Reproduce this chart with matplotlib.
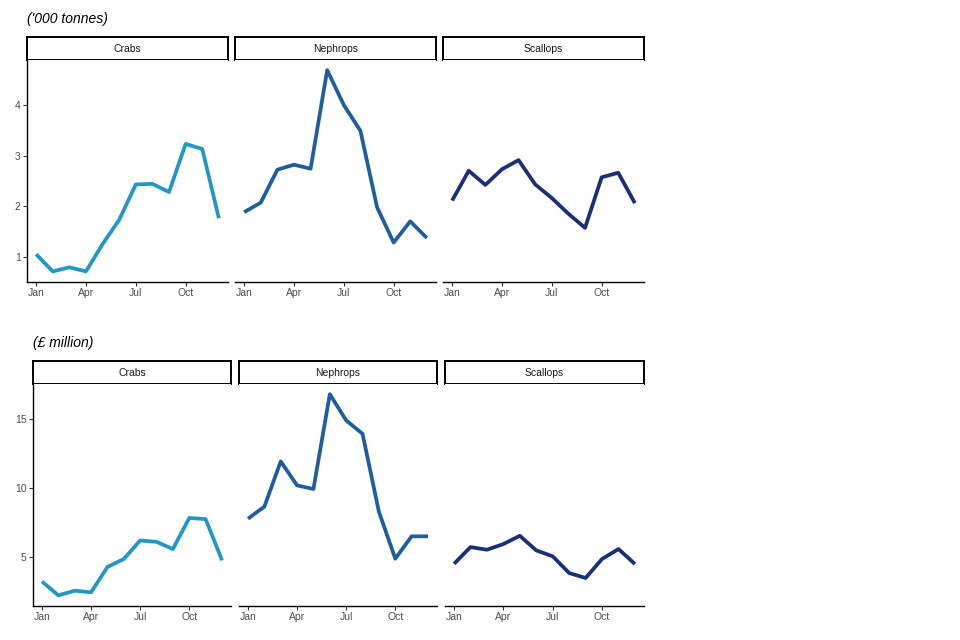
import numpy as np
import matplotlib
matplotlib.use("Agg")
from matplotlib import pyplot as plt

plt.rcParams['font.family'] = ['Liberation Sans', 'DejaVu Sans']

months = np.arange(12)
month_ticks = [0, 3, 6, 9]
month_labels = ["Jan", "Apr", "Jul", "Oct"]
species = ["Crabs", "Nephrops", "Scallops"]
colours = ["#2196C8", "#1F5E9E", "#1A2F7A"]

# landings, '000 tonnes
tonnes_crabs = [1.05, 0.71, 0.79, 0.71, 1.25, 1.73, 2.43, 2.44, 2.28, 3.23, 3.13, 1.76]
tonnes_nephrops = [1.88, 2.07, 2.72, 2.82, 2.74, 4.69, 4.00, 3.49, 1.98, 1.28, 1.70, 1.37]
tonnes_scallops = [2.11, 2.70, 2.42, 2.73, 2.91, 2.43, 2.16, 1.85, 1.57, 2.57, 2.66, 2.06]

# value, £ million
value_crabs = [3.23, 2.22, 2.56, 2.44, 4.28, 4.86, 6.20, 6.10, 5.58, 7.83, 7.75, 4.76]
value_nephrops = [7.78, 8.65, 11.93, 10.19, 9.93, 16.80, 14.90, 13.93, 8.28, 4.88, 6.50, 6.50]
value_scallops = [4.51, 5.72, 5.53, 5.94, 6.54, 5.48, 5.05, 3.84, 3.48, 4.86, 5.58, 4.49]

W, H = 960, 640
fig = plt.figure(figsize=(9.6, 6.4), dpi=100)


def rect(x0, y0, x1, y1):
    # pixel box (top-left origin) -> figure fraction
    return [x0 / W, 1 - y1 / H, (x1 - x0) / W, (y1 - y0) / H]


def draw_row(title, title_x, title_y, panels_x, strip_y, axis_y, series, ylim, yticks):
    fig.text(title_x / W, 1 - title_y / H, title, fontsize=10, style='italic',
             ha='left', va='center')
    for i, (x0, x1) in enumerate(panels_x):
        # strip label box
        sax = fig.add_axes(rect(x0, strip_y[0], x1, strip_y[1]))
        sax.set_xticks([])
        sax.set_yticks([])
        for s in sax.spines.values():
            s.set_linewidth(1.4)
            s.set_color("black")
        sax.text(0.5, 0.5, species[i], ha='center', va='center', fontsize=7.5,
                 color="#1A1A1A", transform=sax.transAxes)

        ax = fig.add_axes(rect(x0, axis_y[0], x1, axis_y[1]))
        ax.plot(months, series[i], color=colours[i], lw=2.7, solid_capstyle='butt')
        ax.set_xlim(-0.55, 11.55)
        ax.set_ylim(*ylim)
        ax.set_xticks(month_ticks)
        ax.set_xticklabels(month_labels)
        ax.spines['top'].set_visible(False)
        ax.spines['right'].set_visible(False)
        ax.spines['bottom'].set_linewidth(1.0)
        ax.tick_params(axis='x', length=3, width=0.8, pad=1.5, labelsize=7.5,
                       labelcolor="#4D4D4D", color="#333333")
        if i == 0:
            ax.set_yticks(yticks)
            ax.spines['left'].set_linewidth(1.0)
            ax.tick_params(axis='y', length=3, width=0.8, pad=1.5, labelsize=7.5,
                           labelcolor="#4D4D4D", color="#333333")
        else:
            ax.spines['left'].set_visible(False)
            ax.set_yticks([])


draw_row("('000 tonnes)", 27, 19,
         [(27, 228), (235, 436), (443, 644)], (37, 60), (60, 282),
         [tonnes_crabs, tonnes_nephrops, tonnes_scallops],
         (0.5, 4.89), [1, 2, 3, 4])

draw_row("(£ million)", 33, 343,
         [(33, 231), (239, 437), (445, 644)], (361, 384), (384, 606),
         [value_crabs, value_nephrops, value_scallops],
         (1.45, 17.54), [5, 10, 15])

fig.savefig("out.png", dpi=100)
